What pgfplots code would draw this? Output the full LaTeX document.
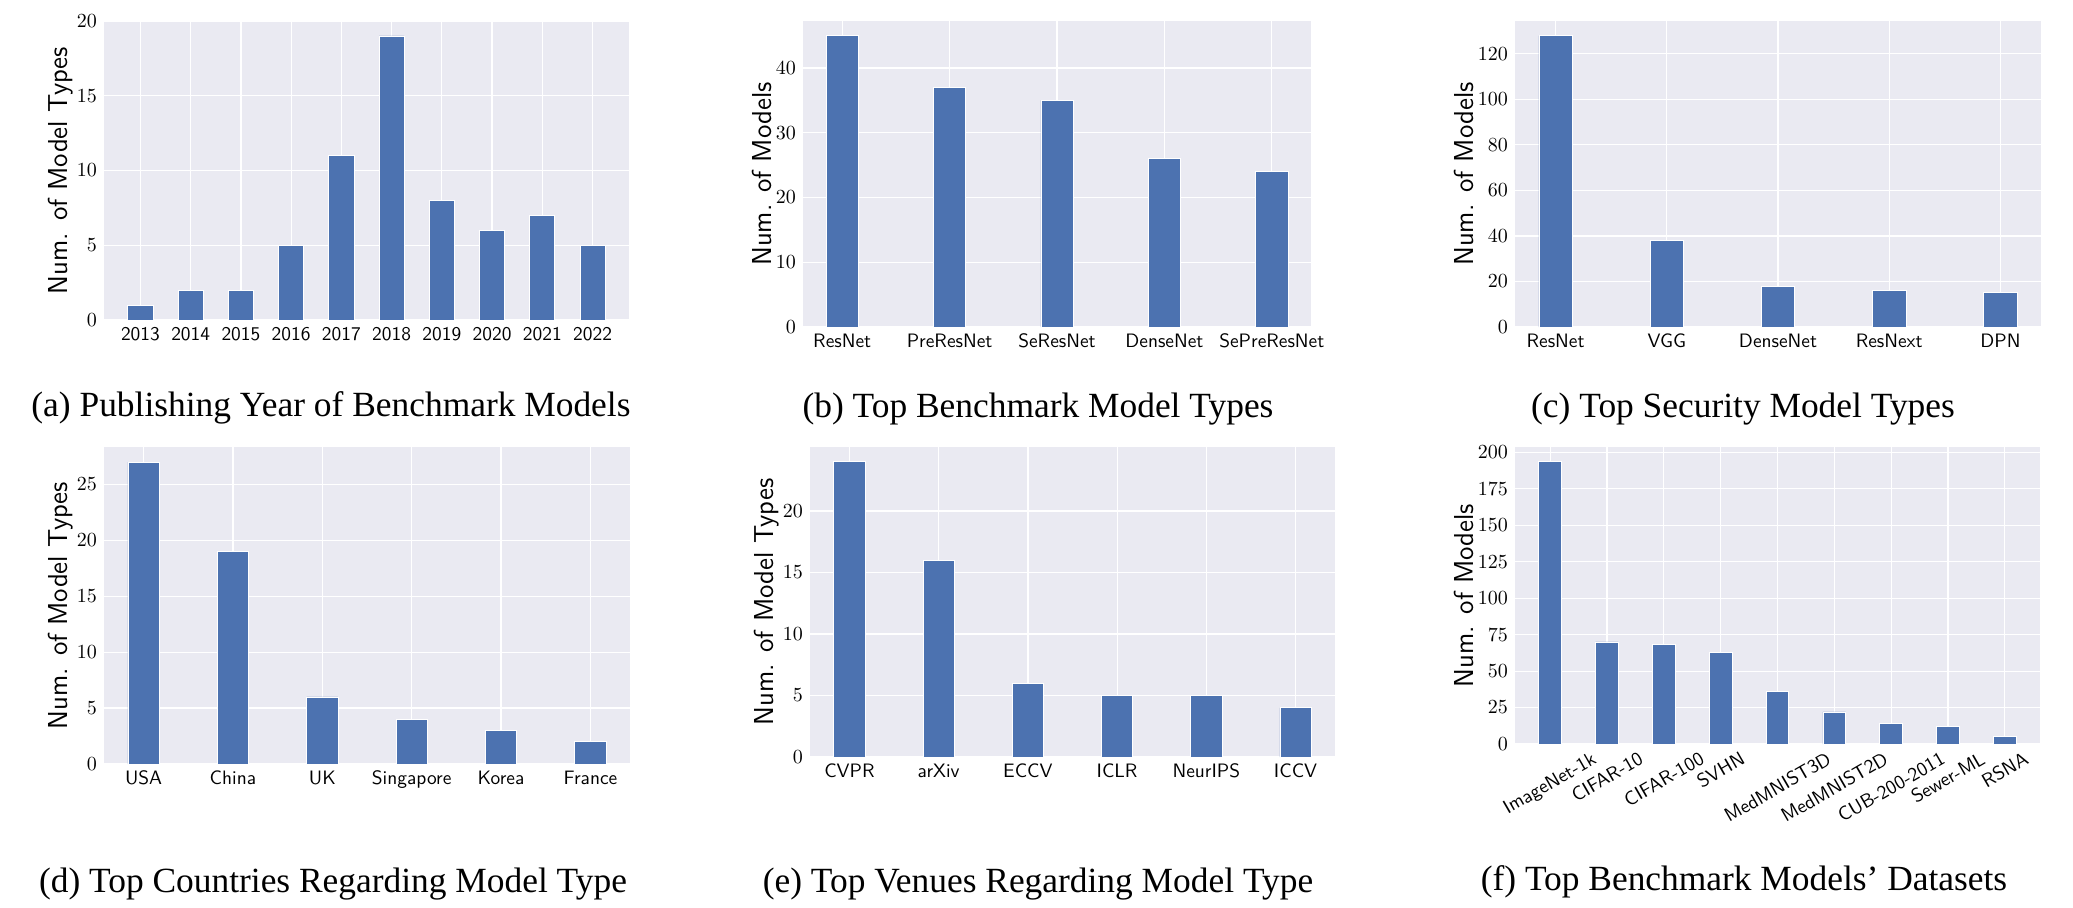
\documentclass[border=0pt]{standalone}
\usepackage[no-math]{fontspec}
\usepackage{graphicx}
\usepackage{pgfplots}
\pgfplotsset{compat=1.18}
\newfontfamily\capfont{Liberation Serif}
\definecolor{snsblue}{HTML}{4C72B0}
\definecolor{snsbg}{HTML}{EAEAF2}
\pgfplotsset{
  sns/.style={
    scale only axis,
    anchor=south west,
    axis background/.style={fill=snsbg},
    axis line style={draw=none},
    major tick length=0pt,
    grid=major,
    major grid style={white, line width=0.6pt},
    enlargelimits=false,
    ymin=0,
    tick label style={font=\fontsize{9.7}{11}\selectfont},
    x tick label style={font=\sffamily\fontsize{9.7}{11}\selectfont},
    ylabel style={font=\sffamily\fontsize{13.7}{16}\selectfont},
    ylabel shift=-5pt,
  },
  bars/.style={ybar, fill=snsblue, draw=white, line width=0.4pt, bar width=#1},
}
\newcommand{\subcap}[1]{{\capfont\fontsize{17.7}{20}\selectfont #1}}
\begin{document}
\begin{tikzpicture}
\path[use as bounding box] (0,0) rectangle (1036.5pt,453.5pt);

% (a) publishing year
\begin{axis}[sns, at={(52pt,293.5pt)}, width=262.5pt, height=149.5pt,
    xmin=-0.725, xmax=9.725, ymax=20,
    xtick={0,...,9}, xticklabels={2013,2014,2015,2016,2017,2018,2019,2020,2021,2022},
    ytick={0,5,10,15,20}, ylabel={Num. of Model Types}]
  \addplot[bars=0.5] coordinates {(0,1) (1,2) (2,2) (3,5) (4,11) (5,19) (6,8) (7,6) (8,7) (9,5)};
\end{axis}

% (b) benchmark model types
\begin{axis}[sns, at={(401.5pt,290pt)}, width=254pt, height=153pt,
    xmin=-0.365, xmax=4.365, ymax=47.25,
    xtick={0,...,4}, xticklabels={ResNet,PreResNet,SeResNet,DenseNet,SePreResNet},
    ytick={0,10,20,30,40}, ylabel={Num. of Models}]
  \addplot[bars=0.3] coordinates {(0,45) (1,37) (2,35) (3,26) (4,24)};
\end{axis}

% (c) security model types
\begin{axis}[sns, at={(757.5pt,290pt)}, width=263pt, height=153pt,
    xmin=-0.365, xmax=4.365, ymax=134.4,
    xtick={0,...,4}, xticklabels={ResNet,VGG,DenseNet,ResNext,DPN},
    ytick={0,20,40,60,80,100,120}, ylabel={Num. of Models}]
  \addplot[bars=0.3] coordinates {(0,128) (1,38) (2,18) (3,16) (4,15)};
\end{axis}

% (d) countries
\begin{axis}[sns, at={(52pt,71.5pt)}, width=263pt, height=158.5pt,
    xmin=-0.4425, xmax=5.4425, ymax=28.35,
    xtick={0,...,5}, xticklabels={USA,China,UK,Singapore,Korea,France},
    ytick={0,5,10,15,20,25}, ylabel={Num. of Model Types}]
  \addplot[bars=0.35] coordinates {(0,27) (1,19) (2,6) (3,4) (4,3) (5,2)};
\end{axis}

% (e) venues
\begin{axis}[sns, at={(405pt,75pt)}, width=262.5pt, height=155pt,
    xmin=-0.4425, xmax=5.4425, ymax=25.2,
    xtick={0,...,5}, xticklabels={CVPR,arXiv,ECCV,ICLR,NeurIPS,ICCV},
    ytick={0,5,10,15,20}, ylabel={Num. of Model Types}]
  \addplot[bars=0.35] coordinates {(0,24) (1,16) (2,6) (3,5) (4,5) (5,4)};
\end{axis}

% (f) datasets
\begin{axis}[sns, at={(757.5pt,81.5pt)}, width=262.5pt, height=148.5pt,
    xmin=-0.62, xmax=8.62, ymax=203.7,
    xtick={0,...,8},
    xticklabels={\rotatebox{30}{ImageNet-1k},\rotatebox{30}{CIFAR-10},\rotatebox{30}{CIFAR-100},
      \rotatebox{30}{SVHN},\rotatebox{30}{MedMNIST3D},\rotatebox{30}{MedMNIST2D},
      \rotatebox{30}{CUB-200-2011},\rotatebox{30}{Sewer-ML},\rotatebox{30}{RSNA}},
    ytick={0,25,50,75,100,125,150,175,200}, ylabel={Num. of Models}]
  \addplot[bars=0.4] coordinates {(0,194) (1,70) (2,68) (3,63) (4,36) (5,22) (6,14) (7,12) (8,5)};
\end{axis}

\node[anchor=base] at (165.5pt,245.5pt) {\subcap{(a) Publishing Year of Benchmark Models}};
\node[anchor=base] at (519pt,245pt) {\subcap{(b) Top Benchmark Model Types}};
\node[anchor=base] at (871.5pt,245pt) {\subcap{(c) Top Security Model Types}};
\node[anchor=base] at (166.5pt,7.5pt) {\subcap{(d) Top Countries Regarding Model Type}};
\node[anchor=base] at (519pt,7.5pt) {\subcap{(e) Top Venues Regarding Model Type}};
\node[anchor=base] at (872pt,8.5pt) {\subcap{(f) Top Benchmark Models’ Datasets}};
\end{tikzpicture}
\end{document}
